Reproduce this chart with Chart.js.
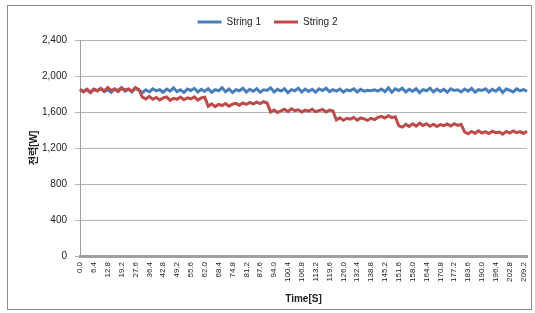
<!DOCTYPE html>
<html>
<head>
<meta charset="utf-8">
<script src="https://cdn.jsdelivr.net/npm/chart.js@4.4.0/dist/chart.umd.min.js"></script>
<style>
body{margin:0;background:#fff}
</style>
</head>
<body>
<canvas class="mychart" width="535" height="313"></canvas>
<script>
// tick labels on the time axis (seconds), one every 4 samples
const timeTicks = ['0.0','6.4','12.8','19.2','27.6','36.4','42.8','49.2','55.6','62.0','68.4','74.8','81.2','87.6','94.0','100.4','106.8','113.2','119.6','126.0','132.4','138.8','145.2','151.6','158.0','164.4','170.8','177.2','183.6','190.0','196.4','202.8','209.2']

const string1 = [
    1855,1823,1847,1815,1855,1836,1863,1826,1848,1820,1858,1839,1871,1831,1852,1823,1863,1842,
    1815,1847,1823,1858,1836,1848,1820,1855,1832,1868,1826,1847,1816,1855,1839,1863,1823,1852,1831,
    1858,1820,1848,1836,1871,1826,1855,1816,1847,1836,1864,1823,1852,1831,1858,1820,1847,1839,
    1868,1823,1852,1832,1858,1816,1848,1836,1863,1823,1855,1829,1852,1820,1858,1839,1864,1826,1848,
    1832,1855,1820,1847,1836,1858,1823,1852,1831,1842,1836,1847,1832,1855,1826,1868,1820,1858,
    1839,1864,1823,1852,1831,1858,1816,1848,1836,1863,1823,1855,1829,1852,1820,1858,1839,1847,1823,
    1855,1832,1863,1820,1848,1839,1858,1823,1852,1831,1864,1816,1855,1842,1823,1858,1836,1848,1829
]

const string2 = [
    1845,1828,1853,1820,1850,1836,1860,1833,1872,1840,1853,1828,1866,1845,1856,1833,1870,1850,
    1765,1745,1773,1741,1762,1733,1757,1768,1730,1752,1741,1765,1736,1758,1745,1768,1733,1757,1765,
    1665,1690,1660,1684,1672,1694,1664,1686,1696,1676,1700,1684,1706,1690,1710,1694,1714,1700,
    1600,1622,1594,1614,1630,1604,1636,1615,1624,1600,1622,1610,1630,1604,1616,1628,1600,1622,1612,
    1512,1535,1508,1530,1520,1540,1510,1534,1524,1508,1530,1516,1540,1552,1532,1558,1538,1548,
    1446,1432,1462,1440,1468,1444,1476,1450,1470,1442,1464,1440,1460,1448,1466,1444,1470,1452,1462,
    1378,1358,1384,1364,1390,1366,1382,1360,1386,1370,1378,1354,1384,1366,1390,1370,1382,1362,1386
]

const yTicks = [0, 400, 800, 1200, 1600, 2000, 2400]

// category labels: a tick label every 4th sample, blank otherwise
const labels = string1.map((v, i) => i % 4 === 0 ? (timeTicks[i / 4] || '') : '')

const FONT = "'Liberation Sans', Arial, 'Noto Sans CJK KR', sans-serif"

// outer frame like the excel chart area, legend nudged up a bit
const frame = {
    id: 'frame',
    afterLayout(chart) {
        chart.legend.top -= 3
        chart.legend.bottom -= 3
    },
    beforeDraw(chart) {
        const c = chart.ctx
        c.save()
        c.fillStyle = '#fff'
        c.fillRect(0, 0, chart.width, chart.height)
        c.strokeStyle = '#8c8c8c'
        c.lineWidth = 1
        c.strokeRect(7.5, 5.5, 524, 304)
        c.restore()
    }
}

let graf = document.querySelector(".mychart").getContext("2d")

const config = {
    type: 'line',
    data: {
        labels: labels,
        datasets: [
            {
                label: 'String 1',
                borderColor: '#4a7ebb',
                backgroundColor: '#4a7ebb',
                borderWidth: 3,
                pointRadius: 0,
                tension: 0,
                order: 1,
                data: string1
            },
            {
                label: 'String 2',
                borderColor: '#be4b48',
                backgroundColor: '#be4b48',
                borderWidth: 3,
                pointRadius: 0,
                tension: 0,
                order: 0,
                data: string2
            }
        ]
    },
    options: {
        responsive: false,
        animation: false,
        layout: { padding: { top: 7, left: 8, right: 8, bottom: 8 } },
        plugins: {
            tooltip: { enabled: false },
            legend: {
                position: 'top',
                labels: {
                    usePointStyle: true,
                    pointStyle: 'line',
                    pointStyleWidth: 24,
                    color: '#222',
                    padding: 13,
                    font: { family: FONT, size: 10 },
                    sort: (a, b) => a.datasetIndex - b.datasetIndex
                }
            }
        },
        scales: {
            x: {
                grid: { display: false, drawTicks: false },
                border: { color: '#a0a0a0', width: 3 },
                ticks: {
                    autoSkip: false,
                    minRotation: 90,
                    maxRotation: 90,
                    padding: 6,
                    color: '#222',
                    font: { family: FONT, size: 8 }
                },
                title: {
                    display: true,
                    text: 'Time[S]',
                    color: '#222',
                    font: { family: FONT, size: 10, weight: 'bold' },
                    padding: { top: 2, bottom: 0 }
                },
                afterFit: s => {
                    s.height = 49
                    s.paddingRight = 0
                    s.paddingLeft = 0
                }
            },
            y: {
                min: 0,
                max: 2400,
                afterBuildTicks: s => { s.ticks = yTicks.map(v => ({ value: v })) },
                grid: { color: '#b4b4b4', tickLength: 5, tickColor: '#b4b4b4' },
                border: { color: '#a0a0a0' },
                ticks: {
                    padding: 8,
                    color: '#222',
                    font: { family: FONT, size: 10 },
                    callback: v => v.toLocaleString('en-US')
                },
                title: {
                    display: true,
                    text: '전력[W]',
                    color: '#222',
                    font: { family: FONT, size: 10, weight: 'bold' },
                    padding: { top: 20, bottom: 0 }
                },
                afterFit: s => { s.width = 72 }
            }
        }
    },
    plugins: [frame]
}

var myChart = new Chart(graf, config)
</script>
</body>
</html>
